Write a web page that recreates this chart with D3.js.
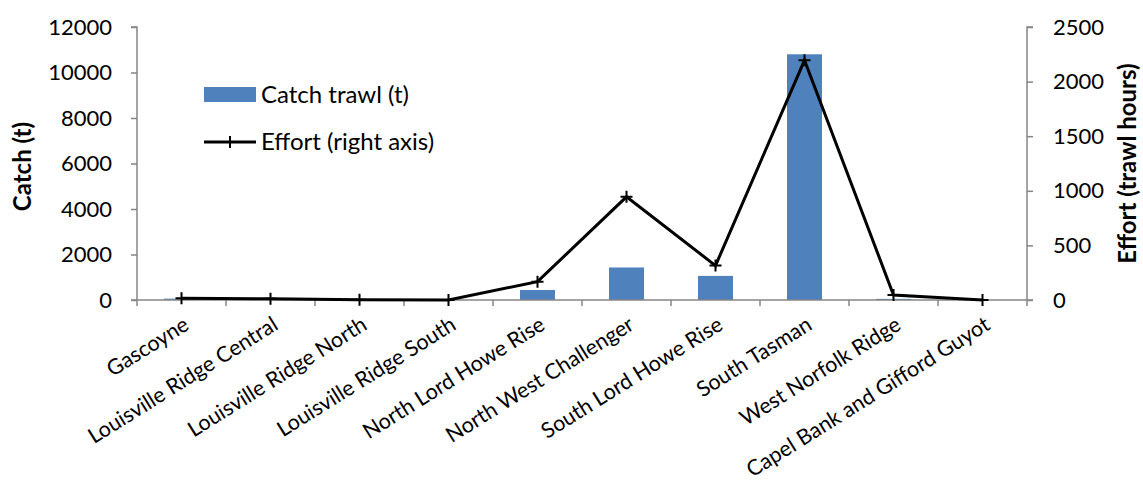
<!DOCTYPE html>
<html><head><meta charset="utf-8">
<script src="https://cdn.jsdelivr.net/npm/d3@7"></script>
<style>body{margin:0;background:#fff}svg{display:block}text{font-family:Lato,"Open Sans",sans-serif}</style>
</head><body><svg id="c" width="1143" height="485"></svg>
<script>
const categories = ["Gascoyne","Louisville Ridge Central","Louisville Ridge North","Louisville Ridge South","North Lord Howe Rise","North West Challenger","South Lord Howe Rise","South Tasman","West Norfolk Ridge","Capel Bank and Gifford Guyot"];
const catchTrawl = [60, 0, 0, 0, 440, 1430, 1060, 10800, 50, 0];
const effort = [15, 12, 2, 1, 168, 945, 315, 2195, 46, 0];
const leftTicks = [0,2000,4000,6000,8000,10000,12000];
const rightTicks = [0,500,1000,1500,2000,2500];

const svg = d3.select("#c");
const L = 137, R = 1027, T = 27, B = 300;
const axisColor = "#868686";
const xb = d3.scaleBand().domain(categories).range([L, R]);
const yL = d3.scaleLinear().domain([0,12000]).range([B, T]);
const yR = d3.scaleLinear().domain([0,2500]).range([B, T]);

// bars
svg.append("g").selectAll("rect").data(categories).join("rect")
  .attr("x", (d) => xb(d) + (xb.bandwidth()-35)/2)
  .attr("width", 35)
  .attr("y", (d,i) => yL(catchTrawl[i]))
  .attr("height", (d,i) => B - yL(catchTrawl[i]))
  .attr("fill", "#4F81BD");

// axes
function styleAxis(g){ g.selectAll("path,line").attr("stroke", axisColor).attr("stroke-width",1.5); g.selectAll("text").attr("fill","#000").style("font-family","Lato").style("font-size","22px"); }
svg.append("g").attr("transform",`translate(${L},0)`)
  .call(d3.axisLeft(yL).tickValues(leftTicks).tickSize(6).tickSizeOuter(6).tickPadding(19).tickFormat(d3.format("d")))
  .call(styleAxis).call(g=>g.select(".domain").attr("d",`M-6,${T}H0V${B}H-6`));
svg.append("g").attr("transform",`translate(${R},0)`)
  .call(d3.axisRight(yR).tickValues(rightTicks).tickSize(6).tickPadding(20).tickFormat(d3.format("d")))
  .call(styleAxis).call(g=>g.select(".domain").attr("d",`M6,${T}H0V${B}H6`));

// bottom axis with ticks at category boundaries
const bottom = svg.append("g");
bottom.append("line").attr("x1",L).attr("x2",R).attr("y1",B).attr("y2",B).attr("stroke",axisColor).attr("stroke-width",1.5);
bottom.selectAll("line.tk").data(categories.concat([null])).join("line").attr("class","tk")
  .attr("x1",(d,i)=> i<categories.length ? xb(d) : R).attr("x2",(d,i)=> i<categories.length ? xb(d) : R)
  .attr("y1",B).attr("y2",B+6).attr("stroke",axisColor).attr("stroke-width",1.5);
bottom.selectAll("text").data(categories).join("text")
  .attr("transform", d => `translate(${xb(d)+xb.bandwidth()/2+5},${B+22}) rotate(-32)`)
  .attr("text-anchor","end").attr("dy","0.35em")
  .style("font-size","21.5px").text(d=>d);

// effort line
const line = d3.line().x((d,i)=>xb(categories[i])+xb.bandwidth()/2).y(d=>yR(d));
svg.append("path").datum(effort).attr("d",line).attr("fill","none").attr("stroke","#000").attr("stroke-width",3).attr("stroke-linejoin","miter");
const mk = svg.append("g").selectAll("g").data(effort).join("g")
  .attr("transform",(d,i)=>`translate(${xb(categories[i])+xb.bandwidth()/2},${yR(d)})`);
mk.append("path").attr("d","M-6,0H6M0,-6V6").attr("stroke","#000").attr("stroke-width",2);

// axis titles
svg.append("text").attr("transform",`translate(31,${(T+B)/2+3}) rotate(-90)`).attr("text-anchor","middle")
  .style("font-size","24px").style("font-weight","bold").text("Catch (t)");
svg.append("text").attr("transform",`translate(1136,${(T+B)/2}) rotate(-90)`).attr("text-anchor","middle")
  .style("font-size","24px").style("font-weight","bold").text("Effort (trawl hours)");

// legend
const lg = svg.append("g");
lg.append("rect").attr("x",204).attr("y",87).attr("width",52).attr("height",15).attr("fill","#4F81BD");
lg.append("text").attr("x",261).attr("y",95).attr("dy","0.35em").style("font-size","24px").text("Catch trawl (t)");
lg.append("line").attr("x1",204).attr("x2",256).attr("y1",142).attr("y2",142).attr("stroke","#000").attr("stroke-width",3);
lg.append("path").attr("d","M224,142H236M230,136V148").attr("stroke","#000").attr("stroke-width",2);
lg.append("text").attr("x",261).attr("y",142).attr("dy","0.35em").style("font-size","24px").text("Effort (right axis)");
</script></body></html>
